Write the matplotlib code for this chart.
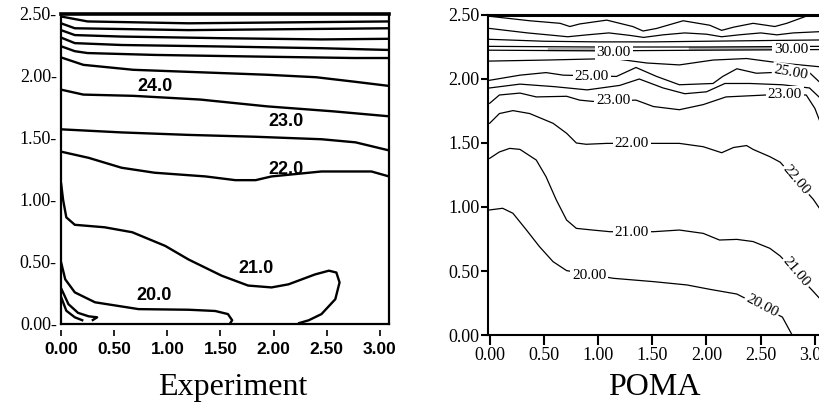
import matplotlib
matplotlib.use('Agg')
import matplotlib.pyplot as plt

SERIF = ['Liberation Serif', 'DejaVu Serif']
NARROW = ['Liberation Sans Narrow', 'Liberation Sans', 'DejaVu Sans']

# ---- Experiment panel: isotherm lines ----
exp_s1_x = [0.0, 0.07, 0.16, 0.26, 0.34, 0.29]
exp_s1_y = [0.29, 0.16, 0.09, 0.062, 0.054, 0.027]
exp_s2_x = [0.0, 0.05, 0.13, 0.21]
exp_s2_y = [0.22, 0.107, 0.054, 0.027]
exp_20_x = [0.0, 0.04, 0.13, 0.32, 0.73, 1.20, 1.45, 1.57, 1.61, 1.59]
exp_20_y = [0.50, 0.36, 0.255, 0.175, 0.12, 0.115, 0.105, 0.08, 0.03, 0.005]
exp_21_x = [0.0, 0.02, 0.05, 0.13, 0.41, 0.67, 0.98, 1.20, 1.51, 1.76, 1.98, 2.14,
            2.39, 2.52, 2.59, 2.62, 2.58, 2.45, 2.33, 2.23]
exp_21_y = [1.14, 1.00, 0.86, 0.80, 0.78, 0.74, 0.63, 0.52, 0.39, 0.31, 0.295, 0.32,
            0.40, 0.43, 0.415, 0.335, 0.20, 0.08, 0.03, 0.005]
exp_22_x = [0.0, 0.26, 0.57, 0.88, 1.36, 1.64, 1.83, 1.98, 2.45, 2.92, 3.085]
exp_22_y = [1.39, 1.34, 1.26, 1.22, 1.19, 1.16, 1.16, 1.19, 1.23, 1.23, 1.19]
exp_23_x = [0.0, 0.57, 1.20, 1.83, 2.45, 2.77, 3.085]
exp_23_y = [1.57, 1.545, 1.525, 1.51, 1.49, 1.465, 1.40]
exp_24_x = [0.0, 0.21, 0.68, 1.31, 1.94, 2.56, 3.085]
exp_24_y = [1.89, 1.85, 1.84, 1.81, 1.755, 1.715, 1.675]
exp_25_x = [0.0, 0.21, 0.68, 1.31, 1.94, 2.40, 2.75, 3.085]
exp_25_y = [2.15, 2.09, 2.05, 2.03, 2.01, 1.99, 1.955, 1.92]
exp_26_x = [0.0, 0.13, 0.25, 0.88, 1.82, 2.76, 3.085]
exp_26_y = [2.24, 2.20, 2.185, 2.17, 2.157, 2.145, 2.145]
exp_27_x = [0.0, 0.13, 0.57, 1.51, 2.45, 3.085]
exp_27_y = [2.31, 2.265, 2.25, 2.238, 2.224, 2.21]
exp_28_x = [0.0, 0.13, 0.57, 1.51, 2.45, 3.085]
exp_28_y = [2.37, 2.33, 2.318, 2.305, 2.295, 2.30]
exp_29_x = [0.0, 0.13, 1.20, 3.085]
exp_29_y = [2.425, 2.385, 2.37, 2.385]
exp_30_x = [0.0, 0.25, 1.20, 3.085]
exp_30_y = [2.48, 2.44, 2.425, 2.44]

exp_label_text = ['20.0', '21.0', '22.0', '23.0', '24.0']
exp_label_x = [0.88, 1.83, 2.12, 2.12, 0.88]
exp_label_y = [0.23, 0.45, 1.25, 1.635, 1.915]

# ---- POMA panel ----
poma_r1_x = [0.0, 0.37, 0.65, 0.74, 0.83, 1.08, 1.32, 1.415, 1.54, 1.785, 2.03, 2.14,
             2.25, 2.43, 2.63, 2.74, 2.95]
poma_r1_y = [2.49, 2.455, 2.435, 2.41, 2.43, 2.46, 2.41, 2.375, 2.395, 2.455, 2.42, 2.38,
             2.405, 2.435, 2.41, 2.435, 2.50]
poma_r2_x = [0.0, 0.35, 0.60, 0.72, 0.90, 1.10, 1.30, 1.42, 1.60, 1.80, 2.00, 2.14,
             2.30, 2.50, 2.65, 2.80, 3.05]
poma_r2_y = [2.395, 2.36, 2.34, 2.33, 2.345, 2.36, 2.34, 2.325, 2.345, 2.36, 2.35, 2.33,
             2.345, 2.36, 2.345, 2.36, 2.37]
poma_r3_x = [0.0, 0.5, 1.0, 1.5, 2.0, 2.5, 3.05]
poma_r3_y = [2.31, 2.295, 2.29, 2.29, 2.295, 2.30, 2.305]
poma_r4a_x = [0.0, 1.0, 2.0, 3.05]
poma_r4a_y = [2.255, 2.25, 2.25, 2.255]
poma_r4b_x = [0.0, 1.0, 2.0, 3.05]
poma_r4b_y = [2.225, 2.22, 2.225, 2.23]
poma_r5_x = [0.0, 0.52, 1.14, 1.45, 1.75, 2.06, 2.37, 2.68, 3.05]
poma_r5_y = [2.14, 2.148, 2.16, 2.125, 2.11, 2.148, 2.16, 2.125, 2.095]
poma_r6_x = [0.0, 0.28, 0.52, 0.68, 1.17, 1.35, 1.54, 1.75, 2.06, 2.15, 2.28, 2.46,
             2.59, 2.95, 3.05]
poma_r6_y = [1.99, 2.03, 2.05, 2.03, 2.02, 2.09, 2.02, 1.955, 1.965, 2.02, 2.08, 2.045,
             2.05, 2.05, 1.97]
poma_r7_x = [0.0, 0.28, 0.6, 0.9, 1.2, 1.38, 1.6, 1.8, 2.0, 2.17, 2.4, 2.7, 2.95, 3.05]
poma_r7_y = [1.93, 1.96, 1.94, 1.915, 1.95, 2.00, 1.93, 1.885, 1.90, 1.965, 1.965,
             1.955, 1.93, 1.85]
poma_r8_x = [0.0, 0.09, 0.28, 0.43, 0.71, 0.83, 0.95, 1.35, 1.51, 1.75, 1.97, 2.18,
             2.55, 2.92, 3.0, 3.05]
poma_r8_y = [1.81, 1.875, 1.89, 1.86, 1.865, 1.835, 1.825, 1.835, 1.785, 1.76, 1.80,
             1.86, 1.875, 1.875, 1.77, 1.66]
poma_22_x = [0.0, 0.09, 0.215, 0.37, 0.585, 0.71, 0.80, 0.89, 1.08, 1.51, 1.75, 1.97,
             2.14, 2.25, 2.37, 2.43, 2.585, 2.68, 2.985, 3.05]
poma_22_y = [1.654, 1.73, 1.753, 1.73, 1.654, 1.576, 1.50, 1.49, 1.497, 1.497, 1.497,
             1.471, 1.424, 1.465, 1.48, 1.45, 1.393, 1.35, 1.06, 0.98]
poma_21_x = [0.0, 0.09, 0.185, 0.28, 0.43, 0.52, 0.615, 0.71, 0.80, 0.95, 1.11, 1.51,
             1.75, 1.97, 2.12, 2.28, 2.43, 2.585, 2.68, 2.985, 3.05]
poma_21_y = [1.38, 1.43, 1.458, 1.45, 1.367, 1.237, 1.055, 0.898, 0.833, 0.82, 0.807,
             0.807, 0.82, 0.794, 0.742, 0.747, 0.73, 0.677, 0.617, 0.34, 0.28]
poma_20_x = [0.0, 0.12, 0.215, 0.34, 0.46, 0.585, 0.71, 1.14, 1.51, 1.82, 2.03, 2.28,
             2.70, 2.79]
poma_20_y = [0.977, 0.99, 0.951, 0.82, 0.69, 0.573, 0.503, 0.443, 0.417, 0.391, 0.357,
             0.32, 0.14, 0.0]
poma_smudge_x = [[0.55, 1.0], [1.85, 2.65]]
poma_smudge_y = [[2.238, 2.238], [2.24, 2.24]]

poma_label_text = ['20.00', '20.00', '21.00', '21.00', '22.00', '22.00',
                   '23.00', '23.00', '25.00', '25.00', '30.00', '30.00']
poma_label_x = [0.92, 2.51, 1.31, 2.83, 1.31, 2.83, 1.14, 2.72, 0.94, 2.78, 1.145, 2.78]
poma_label_y = [0.465, 0.225, 0.80, 0.49, 1.495, 1.21, 1.83, 1.88, 2.02, 2.05, 2.21, 2.23]
poma_label_rot = [0, -28, 0, -50, 0, -50, 0, 0, 0, -10, 0, 0]

ticks = [0.0, 0.5, 1.0, 1.5, 2.0, 2.5, 3.0]
yticks = [0.0, 0.5, 1.0, 1.5, 2.0, 2.5]


def draw_experiment(ax):
    lines = [(exp_s1_x, exp_s1_y), (exp_s2_x, exp_s2_y), (exp_20_x, exp_20_y),
             (exp_21_x, exp_21_y), (exp_22_x, exp_22_y), (exp_23_x, exp_23_y),
             (exp_24_x, exp_24_y), (exp_25_x, exp_25_y), (exp_26_x, exp_26_y),
             (exp_27_x, exp_27_y), (exp_28_x, exp_28_y), (exp_29_x, exp_29_y),
             (exp_30_x, exp_30_y)]
    for xs, ys in lines:
        ax.plot(xs, ys, color='black', lw=1.7, solid_capstyle='butt')
    for t, x, y in zip(exp_label_text, exp_label_x, exp_label_y):
        ax.text(x, y, t, ha='center', va='center', fontsize=13, fontweight='bold',
                family=NARROW)
    ax.set_xlim(0, 3.085)
    ax.set_ylim(0, 2.5)
    for s in ax.spines.values():
        s.set_linewidth(1.6)
    ax.spines['top'].set_linewidth(2.6)
    ax.set_xticks([])
    ax.set_yticks(yticks)
    ax.set_yticklabels(['{:.2f}-'.format(v) for v in yticks], family=SERIF, fontsize=13)
    ax.tick_params(axis='y', length=0, pad=3)
    # tick marks sit a little below the frame
    sec = ax.secondary_xaxis(-0.018)
    sec.spines['bottom'].set_visible(False)
    sec.set_xticks(ticks)
    sec.set_xticklabels(['{:.2f}'.format(v) for v in ticks], family=NARROW,
                        fontsize=12.5, fontweight='bold')
    sec.tick_params(axis='x', direction='out', length=4, width=1.2, pad=5)


def draw_poma(ax):
    for xs, ys in zip(poma_smudge_x, poma_smudge_y):
        ax.plot(xs, ys, color='#b0b0b0', lw=2.5)
    lines = [(poma_r1_x, poma_r1_y), (poma_r2_x, poma_r2_y), (poma_r3_x, poma_r3_y),
             (poma_r4a_x, poma_r4a_y), (poma_r4b_x, poma_r4b_y), (poma_r5_x, poma_r5_y),
             (poma_r6_x, poma_r6_y), (poma_r7_x, poma_r7_y), (poma_r8_x, poma_r8_y),
             (poma_22_x, poma_22_y), (poma_21_x, poma_21_y), (poma_20_x, poma_20_y)]
    for xs, ys in lines:
        ax.plot(xs, ys, color='black', lw=0.9)
    for t, x, y, r in zip(poma_label_text, poma_label_x, poma_label_y, poma_label_rot):
        ax.text(x, y, t, ha='center', va='center', rotation=r, fontsize=11,
                family=SERIF, rotation_mode='anchor',
                bbox=dict(boxstyle='square,pad=0.12', fc='white', ec='none'))
    ax.set_xlim(-0.015, 3.047)
    ax.set_ylim(0, 2.5)
    ax.spines['right'].set_visible(False)
    ax.spines['left'].set_linewidth(1.5)
    ax.spines['bottom'].set_linewidth(1.5)
    ax.spines['top'].set_linewidth(2.2)
    ax.set_xticks(ticks)
    ax.set_xticklabels(['{:.2f}'.format(v) for v in ticks], family=SERIF, fontsize=13)
    ax.set_yticks(yticks)
    ax.set_yticklabels(['{:.2f}'.format(v) for v in yticks], family=SERIF, fontsize=13)
    ax.tick_params(axis='x', direction='out', length=7, width=1.5, pad=2)
    ax.tick_params(axis='y', direction='out', length=5, width=1.5, pad=1)


fig = plt.figure(figsize=(8.2, 4.09), dpi=100)
ax1 = fig.add_axes([61 / 820, (409 - 324) / 409, 328 / 820, 310 / 409])
ax2 = fig.add_axes([488 / 820, (409 - 335) / 409, 332 / 820, 320 / 409])
draw_experiment(ax1)
draw_poma(ax2)
fig.text(233 / 820, (409 - 395) / 409, 'Experiment', ha='center', va='baseline',
         family=SERIF, fontsize=23)
fig.text(654 / 820, (409 - 395) / 409, 'POMA', ha='center', va='baseline',
         family=SERIF, fontsize=23)
fig.savefig('out.png', dpi=100, facecolor='white')
